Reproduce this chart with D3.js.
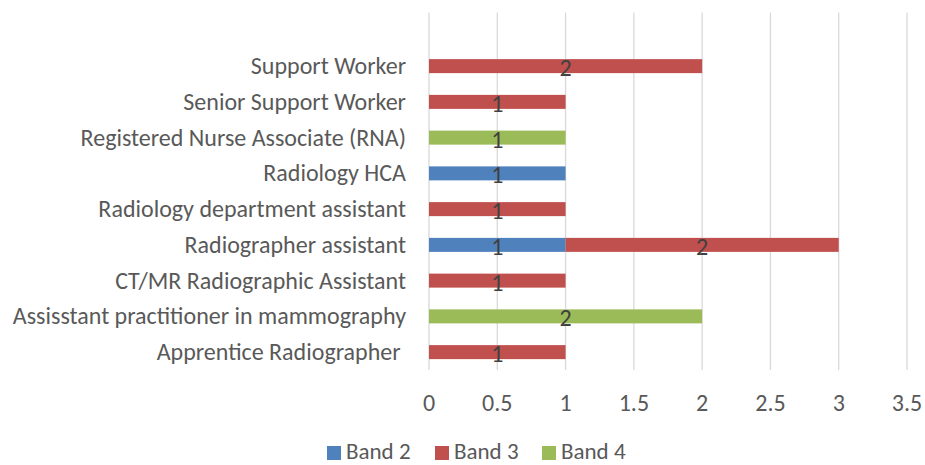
<!DOCTYPE html>
<html>
<head>
<meta charset="utf-8">
<script src="https://cdn.jsdelivr.net/npm/d3@7"></script>
<style>
  body { margin: 0; background: #fff; }
  text { font-family: Carlito, "Open Sans", sans-serif; white-space: pre; }
</style>
</head>
<body>
<svg id="chart" width="925" height="465"></svg>
<script>
// roles, listed bottom to top like the original sheet ("" = empty top slot)
const roles = [
  "Apprentice Radiographer ",
  "Assisstant practitioner in mammography",
  "CT/MR Radiographic Assistant",
  "Radiographer assistant",
  "Radiology department assistant",
  "Radiology HCA",
  "Registered Nurse Associate (RNA)",
  "Senior Support Worker",
  "Support Worker",
  ""
];
const band2 = [0, 0, 0, 1, 0, 1, 0, 0, 0, 0];
const band3 = [1, 0, 1, 2, 1, 0, 0, 1, 2, 0];
const band4 = [0, 2, 0, 0, 0, 0, 1, 0, 0, 0];
const seriesNames = ["Band 2", "Band 3", "Band 4"];
const seriesColors = ["#4F81BD", "#C0504D", "#9BBB59"];
const xTicks = [0, 0.5, 1, 1.5, 2, 2.5, 3, 3.5];

const svg = d3.select("#chart");
const plotLeft = 429, plotRight = 907, plotTop = 12.5, plotBottom = 370;

const x = d3.scaleLinear().domain([0, 3.5]).range([plotLeft, plotRight]);
const y = d3.scaleBand().domain(d3.range(roles.length)).range([plotBottom, plotTop]).paddingInner(0.6).paddingOuter(0.3);

// gridlines
svg.append("g").selectAll("line")
  .data(xTicks)
  .join("line")
  .attr("x1", d => x(d)).attr("x2", d => x(d))
  .attr("y1", plotTop).attr("y2", plotBottom)
  .attr("stroke", "#d9d9d9").attr("stroke-width", 1.3);

// x tick labels
svg.append("g").selectAll("text")
  .data(xTicks)
  .join("text")
  .attr("x", d => x(d)).attr("y", 411)
  .attr("text-anchor", "middle")
  .attr("font-size", 24)
  .attr("fill", "#595959")
  .text(d => d);

// category labels
svg.append("g").selectAll("text")
  .data(roles)
  .join("text")
  .attr("x", 406)
  .attr("y", (d, i) => y(i) + y.bandwidth() / 2 + 8)
  .attr("text-anchor", "end")
  .attr("font-size", 24)
  .attr("fill", "#595959")
  .text(d => d);

// stacking
const rows = roles.map((r, i) => ({ i, b2: band2[i], b3: band3[i], b4: band4[i] }));
const stack = d3.stack().keys(["b2", "b3", "b4"]);
const layers = stack(rows);

const barH = 14;
layers.forEach((layer, k) => {
  const g = svg.append("g");
  const segs = layer.filter(d => d[1] - d[0] > 0);
  g.selectAll("rect")
    .data(segs)
    .join("rect")
    .attr("x", d => x(d[0]))
    .attr("y", d => y(d.data.i) + y.bandwidth() / 2 - barH / 2)
    .attr("width", d => x(d[1]) - x(d[0]))
    .attr("height", barH)
    .attr("fill", seriesColors[k]);
  g.selectAll("text")
    .data(segs)
    .join("text")
    .attr("x", d => x((d[0] + d[1]) / 2))
    .attr("y", d => y(d.data.i) + y.bandwidth() / 2 + 10)
    .attr("text-anchor", "middle")
    .attr("font-size", 24)
    .attr("fill", "#404040")
    .text(d => d[1] - d[0]);
});

// legend
const legX = [327, 435, 542];
const leg = svg.append("g");
seriesNames.forEach((name, k) => {
  leg.append("rect")
    .attr("x", legX[k]).attr("y", 446)
    .attr("width", 14).attr("height", 14)
    .attr("fill", seriesColors[k]);
  leg.append("text")
    .attr("x", legX[k] + 19).attr("y", 459)
    .attr("font-size", 23)
    .attr("fill", "#595959")
    .text(name);
});
</script>
</body>
</html>
